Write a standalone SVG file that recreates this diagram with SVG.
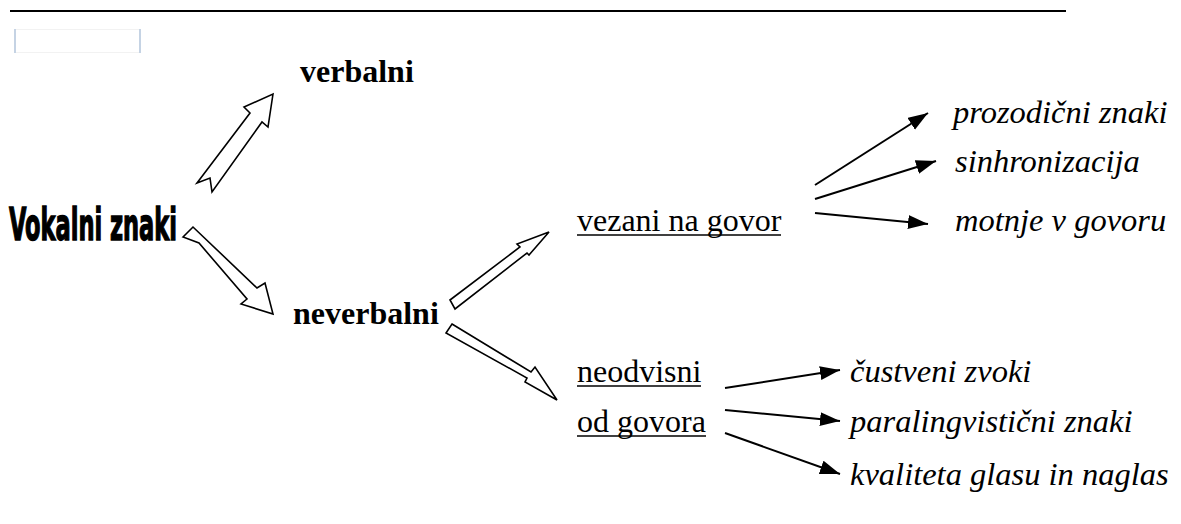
<svg xmlns="http://www.w3.org/2000/svg" width="1181" height="524" viewBox="0 0 1181 524">
<style>
.b{font-family:"Liberation Serif","Times New Roman",serif;font-weight:bold;font-size:32px;fill:#000}
.r{font-family:"Liberation Serif","Times New Roman",serif;font-size:32px;fill:#000}
.i{font-family:"Liberation Serif","Times New Roman",serif;font-style:italic;font-size:32.5px;fill:#000}
.h{font-family:"Liberation Sans Narrow","DejaVu Sans Condensed","Liberation Sans",sans-serif;font-weight:bold;font-size:45px;fill:#000;stroke:#000;stroke-width:1.4}
.u{stroke:#000;stroke-width:1.6}
.blk{fill:#fff;stroke:#000;stroke-width:1.6;stroke-linejoin:miter}
.thin{stroke:#000;stroke-width:2;fill:none;marker-end:url(#ah)}
</style>
<defs>
<marker id="ah" markerUnits="userSpaceOnUse" markerWidth="22" markerHeight="16" refX="20" refY="7" orient="auto">
<path d="M0,0 L20,7 L0,14 z" fill="#000"/>
</marker>
</defs>
<rect width="1181" height="524" fill="#fff"/>
<line x1="10" y1="11" x2="1066" y2="11" stroke="#000" stroke-width="2"/>
<rect x="14.5" y="29.5" width="126" height="23" fill="none" stroke="#f2f2f2" stroke-width="1"/>
<line x1="15" y1="29" x2="15" y2="53" stroke="#c5d3e4" stroke-width="2"/>
<line x1="140" y1="29" x2="140" y2="53" stroke="#c5d3e4" stroke-width="2"/>

<g id="connectors">
<polygon class="blk" points="273,94 268,127 262,122 212,192 210,178 197,183 250,113 244,107"/>
<polygon class="blk" points="183,237 193,227 257,288 265,283 273,314 241,304 247,299 199,243"/>
<polygon class="blk" points="450,300 520,247 517,244 549,232 529,255 527,253 455,309"/>
<polygon class="blk" points="452,324 531,372 535,367 557,400 525,382 527,378 446,333"/>
<line class="thin" x1="815" y1="185" x2="928" y2="113"/>
<line class="thin" x1="815" y1="199" x2="936" y2="161"/>
<line class="thin" x1="815" y1="213" x2="928" y2="224"/>
<line class="thin" x1="725" y1="388" x2="840" y2="370"/>
<line class="thin" x1="725" y1="410" x2="840" y2="421"/>
<line class="thin" x1="725" y1="433" x2="840" y2="474"/>
</g>

<g id="vokalni"><text class="h" x="9" y="240" textLength="168" lengthAdjust="spacingAndGlyphs">Vokalni znaki</text></g>
<g id="verbalni"><text class="b" x="300" y="82">verbalni</text></g>
<g id="neverbalni"><text class="b" x="293" y="324">neverbalni</text></g>
<g id="vezani"><text class="r" x="577" y="231">vezani na govor</text><line class="u" x1="577" y1="235" x2="781" y2="235"/></g>
<g id="neodvisni"><text class="r" x="577" y="382">neodvisni</text><line class="u" x1="577" y1="386" x2="701" y2="386"/><text class="r" x="577" y="432">od govora</text><line class="u" x1="577" y1="436" x2="706" y2="436"/></g>
<g id="prozodicni"><text class="i" x="953" y="123">prozodični znaki</text></g>
<g id="sinhronizacija"><text class="i" x="955" y="172">sinhronizacija</text></g>
<g id="motnje"><text class="i" x="955" y="231">motnje v govoru</text></g>
<g id="custveni"><text class="i" x="850" y="382">čustveni zvoki</text></g>
<g id="paraling"><text class="i" x="850" y="432">paralingvistični znaki</text></g>
<g id="kvaliteta"><text class="i" x="850" y="485">kvaliteta glasu in naglas</text></g>
</svg>
